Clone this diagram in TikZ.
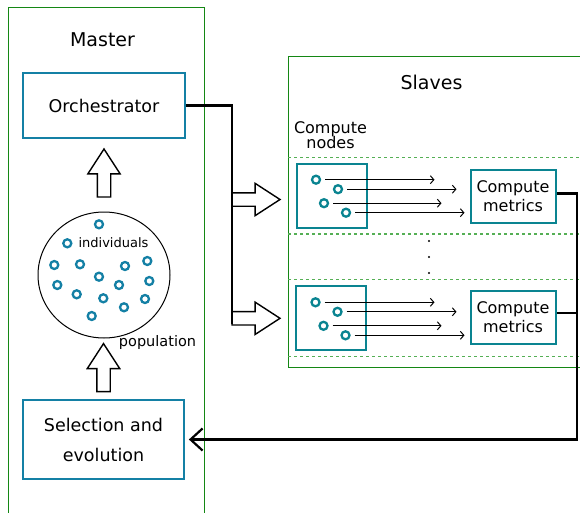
\documentclass[tikz,border=0pt]{standalone}
\usepackage{fontspec}
\setmainfont{DejaVu Sans}
\usetikzlibrary{arrows.meta,shapes.geometric,shapes.arrows}
\definecolor{boxblue}{RGB}{20,128,165}
\definecolor{nodeteal}{RGB}{10,132,145}
\definecolor{zonegreen}{RGB}{20,135,20}
\definecolor{sepgreen}{RGB}{85,175,85}
\begin{document}
\begin{tikzpicture}[x=1pt,y=-1pt,
  zone/.style={draw=zonegreen,line width=1pt},
  sep/.style={draw=sepgreen,line width=1.1pt,dash pattern=on 3pt off 3pt},
  stage/.style={draw=boxblue,line width=1.8pt,minimum width=162pt,inner sep=0pt,
    align=center,font=\fontsize{17.5}{30}\selectfont},
  worker/.style={draw=nodeteal,line width=2pt,minimum width=70pt,minimum height=64pt,inner sep=0pt},
  metric/.style={draw=nodeteal,line width=2pt,minimum width=85pt,minimum height=53pt,inner sep=0pt,
    align=center,font=\fontsize{16}{18.5}\selectfont},
  indiv/.style={circle,draw=boxblue,line width=2.3pt,minimum size=8pt,inner sep=0pt},
  flow/.style={line width=1pt,-{Straight Barb[length=3.5pt,width=8pt]}},
  bus/.style={line width=2.2pt,line join=miter},
  bigarrow/.style={single arrow,draw,fill=white,line width=1.4pt,minimum height=48pt,
    inner xsep=0pt,inner ysep=6pt,outer sep=0pt,single arrow head extend=9.5pt,
    single arrow tip angle=66}]
\path[use as bounding box,clip] (0,0) rectangle (580,513);

% the two zones
\draw[zone] (8,8) rectangle (204,530);
\draw[zone] (288,57) rectangle (590,367);
\node[font=\fontsize{19}{22}\selectfont] (mastertitle) at (102.5,40) {Master};
\node[font=\fontsize{19}{22}\selectfont] (slavetitle) at (431.5,82) {Slaves};

% master side
\node[stage,minimum height=65pt] (orch) at (104,105.5) {Orchestrator};
\node[stage,minimum height=79pt,minimum width=161pt] (sel) at (103.5,439.5) {Selection and\\evolution};
\node[ellipse,draw,line width=1pt,minimum width=132pt,minimum height=126pt,inner sep=0pt] (pop) at (104,275) {};
\foreach \x/\y [count=\i] in {99/224.3,67.3/243.3,54.3/265,80/264.3,125/266,147.3/261,
    99/276.7,119/285,149.3/281,57.3/285,76.7/294.3,103.3/298.3,145/299,124/307.3,91.7/316}
  \node[indiv] (p\i) at (\x,\y) {};
\node[font=\fontsize{13}{15}\selectfont] (indivlabel) at (113.5,243) {individuals};
\node[font=\fontsize{14.5}{17}\selectfont] (poplabel) at (157.5,342.5) {population};

\node[bigarrow,rotate=90,anchor=tail] (up1) at ([yshift=14.5pt]pop.north) {};
\node[bigarrow,rotate=90,anchor=tail] (up2) at ([yshift=7.5pt]sel.north) {};

% slave side
\node[font=\fontsize{16}{15.5}\selectfont,align=center] (cnlabel) at (330.5,135) {Compute\\nodes};
\draw[sep] (288,157.3) -- (580,157.3);
\draw[sep] (288,234) -- (580,234);
\draw[sep] (288,279.3) -- (580,279.3);
\draw[sep] (288,356.7) -- (580,356.7);
\foreach \y in {241,257,273}
  \fill (429,\y) circle[radius=1.1pt];

\node[worker] (cn1) at (331.5,195.7) {};
\node[worker] (cn2) at (331,318.3) {};
\node[metric] (cm1) at (513,196) {Compute\\metrics};
\node[metric] (cm2) at (513,317) {Compute\\metrics};
\foreach \b in {1,2}
  \foreach \dx/\dy/\gap [count=\i] in {-15.5/-16/35,6.5/-6.5/13,-7.5/7.5/28,14.5/17/5} {
    \node[indiv,draw=nodeteal] (j\b\i) at ([shift={(\dx,\dy)}]cn\b.center) {};
    \draw[flow] ([xshift=4pt]j\b\i.east) -- ([xshift=-\gap pt]j\b\i.east -| cm\b.west);
  }

% orchestrator feeds the slaves
\node[bigarrow,anchor=tail] (go1) at (232,199.5) {};
\node[bigarrow,anchor=tail] (go2) at (232,318.3) {};
\draw[bus] (orch.east) -| ([yshift=-6pt]go2.tail);

% metrics go back
\coordinate (back) at (577,439.5);
\draw[bus,-{Straight Barb[length=12pt,width=22pt]},shorten >=4pt]
  ([yshift=2.5pt]cm1.east) -| (back) -- (sel.east);
\draw[bus] ([yshift=4pt]cm2.east) -- ([yshift=4pt]cm2.east -| back);
\end{tikzpicture}
\end{document}
